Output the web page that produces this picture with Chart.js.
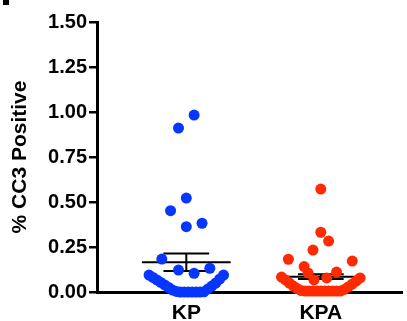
<!DOCTYPE html>
<html>
<head>
<meta charset="utf-8">
<script src="https://cdn.jsdelivr.net/npm/chart.js@4.4.1/dist/chart.umd.min.js"></script>
<style>
  html, body { margin: 0; padding: 0; background: #fff; }
  #wrap { width: 407px; height: 321px; position: relative; }
</style>
</head>
<body>
<div id="wrap"><canvas id="cc3Chart"></canvas></div>
<script>
// ---- data ----
const categories = ["KP", "KPA"];
const yTickValues = [0, 0.25, 0.5, 0.75, 1.0, 1.25, 1.5];

// KP group: % CC3 values and swarm x position (category 1 = KP)
const kpValues = [0.983, 0.911, 0.522, 0.452, 0.382, 0.363, 0.183, 0.122, 0.104, 0.132,
  0.094, 0.081, 0.067, 0.053, 0.039, 0.025, 0.011, 0.003, 0, 0, 0, 0, 0, 0, 0.001,
  0.017, 0.033, 0.050, 0.072, 0.094];
const kpX = [1.058, 0.942, 1.0, 0.883, 1.117, 1.0, 0.818, 0.942, 1.058, 1.175,
  0.723, 0.752, 0.781, 0.810, 0.839, 0.869, 0.898, 0.927, 0.956, 0.985, 1.015, 1.044, 1.073, 1.102, 1.131,
  1.161, 1.190, 1.219, 1.248, 1.277];

// KPA group (category 2 = KPA)
const kpaValues = [0.572, 0.332, 0.283, 0.233, 0.182, 0.172, 0.141, 0.106, 0.067, 0.078, 0.111,
  0.083, 0.067, 0.050, 0.033, 0.019, 0.008, 0.005, 0.005, 0.005, 0.005, 0.005, 0.005, 0.005, 0.005, 0.005, 0.005,
  0.014, 0.028, 0.044, 0.061, 0.078];
const kpaX = [2.0, 2.0, 2.058, 1.942, 1.759, 2.234, 1.876, 1.905, 1.949, 2.044, 2.117,
  1.708, 1.737, 1.766, 1.796, 1.825, 1.854, 1.883, 1.912, 1.942, 1.971, 2.0, 2.029, 2.058, 2.088, 2.117, 2.146,
  2.175, 2.204, 2.234, 2.263, 2.292];

// mean +/- SEM per group
const groupMeans = [0.165, 0.085];
const groupSem = [0.049, 0.013];

const groupColors = ["#0636ff", "#ff2a00"];

// ---- build datasets ----
function toPoints(xs, ys) {
  return ys.map((v, i) => ({ x: xs[i], y: v }));
}

const datasets = [
  {
    type: "scatter",
    label: categories[0],
    data: toPoints(kpX, kpValues),
    backgroundColor: groupColors[0],
    borderColor: groupColors[0],
    borderWidth: 0,
    pointRadius: 5.5,
    clip: false,
    order: 1
  },
  {
    type: "scatter",
    label: categories[1],
    data: toPoints(kpaX, kpaValues),
    backgroundColor: groupColors[1],
    borderColor: groupColors[1],
    borderWidth: 0,
    pointRadius: 5.5,
    clip: false,
    order: 1
  }
];

// error bars: mean line, SEM whisker and caps, drawn as small line datasets
function segment(x1, y1, x2, y2) {
  return {
    type: "line",
    data: [{ x: x1, y: y1 }, { x: x2, y: y2 }],
    borderColor: "#000",
    borderWidth: 2,
    pointRadius: 0,
    fill: false,
    clip: false,
    order: 2
  };
}
groupMeans.forEach((m, i) => {
  const c = i + 1, s = groupSem[i];
  datasets.push(segment(c - 0.33, m, c + 0.33, m));
  datasets.push(segment(c, m - s, c, m + s));
  datasets.push(segment(c - 0.17, m + s, c + 0.17, m + s));
  datasets.push(segment(c - 0.17, m - s, c + 0.17, m - s));
});

// bit of the panel letter cut off in the top-left corner
const cornerMark = {
  id: "cornerMark",
  afterDraw(chart) {
    const ctx = chart.ctx;
    ctx.save();
    ctx.fillStyle = "#000";
    ctx.fillRect(3, 0, 6, 5);
    ctx.restore();
  }
};

const AXIS_LEFT = 97;   // x of the y axis line
const AXIS_BOTTOM = 292; // y of the x axis line

new Chart(document.getElementById("cc3Chart"), {
  data: { datasets },
  plugins: [cornerMark],
  options: {
    responsive: true,
    maintainAspectRatio: false,
    animation: false,
    layout: { padding: { top: 22, right: 0, left: 0, bottom: 0 } },
    plugins: { legend: { display: false }, tooltip: { enabled: false } },
    scales: {
      x: {
        type: "linear",
        min: 0.336,
        max: 2.6,
        afterFit: s => { s.height = 321 - AXIS_BOTTOM; },
        afterBuildTicks: s => { s.ticks = categories.map((c, i) => ({ value: i + 1 })); },
        ticks: {
          callback: v => categories[v - 1] || "",
          color: "#000",
          padding: 5,
          font: { family: "'Liberation Sans', Arial, sans-serif", size: 21, weight: "bold" }
        },
        grid: { drawOnChartArea: false, drawTicks: true, tickLength: 4, color: "#000", lineWidth: 2 },
        border: { display: true, color: "#000", width: 3 }
      },
      y: {
        type: "linear",
        min: 0,
        max: 1.5,
        afterFit: s => { s.width = AXIS_LEFT; },
        afterBuildTicks: s => { s.ticks = yTickValues.map(v => ({ value: v })); },
        ticks: {
          callback: v => v.toFixed(2),
          color: "#000",
          padding: 2,
          font: { family: "'Liberation Sans', Arial, sans-serif", size: 20, weight: "bold" }
        },
        grid: { drawOnChartArea: false, drawTicks: true, tickLength: 8, color: "#000", lineWidth: 2.5 },
        border: { display: true, color: "#000", width: 3 },
        title: {
          display: true,
          text: "% CC3 Positive",
          color: "#000",
          padding: { top: 8, bottom: 0 },
          font: { family: "'Liberation Sans', Arial, sans-serif", size: 21, weight: "bold" }
        }
      }
    }
  }
});
</script>
</body>
</html>
